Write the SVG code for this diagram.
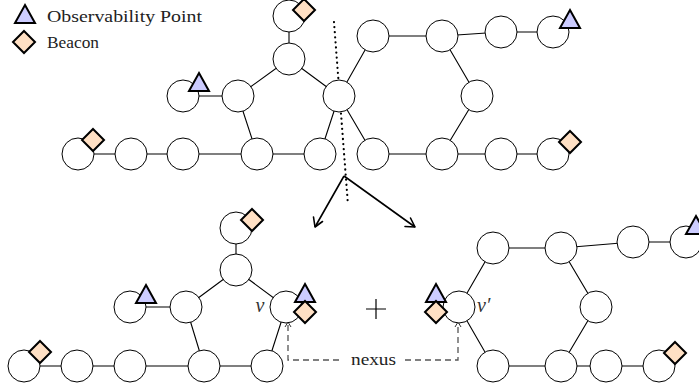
<svg xmlns="http://www.w3.org/2000/svg" width="699" height="390" viewBox="0 0 699 390">
<defs>
<style>
.n{fill:#fff;stroke:#000;stroke-width:1}
.e{stroke:#000;stroke-width:1.1;fill:none}
.tri{fill:#ccccff;stroke:#000;stroke-width:2;stroke-linejoin:miter}
.dia{fill:#ffe0c4;stroke:#000;stroke-width:2;stroke-linejoin:miter}
.t{font-family:"Liberation Serif","DejaVu Serif",serif;font-size:17px;fill:#222}
.it{font-family:"Liberation Serif","DejaVu Serif",serif;font-size:20px;font-style:italic;fill:#333}
</style>
<polygon id="T" points="0,-12 10,6 -10,6"/>
<polygon id="D" points="0,-11 11,0 0,11 -11,0"/>
</defs>
<rect width="699" height="390" fill="#fff"/>

<g id="legend">
<use href="#T" x="25" y="17" class="tri"/>
<text class="t" x="47" y="22" textLength="155" lengthAdjust="spacingAndGlyphs">Observability Point</text>
<use href="#D" x="24" y="42" class="dia"/>
<text class="t" x="47" y="48" textLength="52" lengthAdjust="spacingAndGlyphs">Beacon</text>
</g>

<g id="connectors">
<!-- top graph -->
<path class="e" d="M289,16V59 M289,59L238,96 M289,59L339,96 M183,96H238 M238,96L257,154 M339,96L320,154 M339,96L373,154 M339,96L373,36 M78,154H320 M373,154H553 M373,36H442 M442,36L501,32H553 M442,36L477,96L442,154"/>
<!-- bottom left graph -->
<path class="e" d="M236,228V270 M236,270L186,307 M236,270L286,307 M130,307H186 M186,307L204,366 M286,307L267,366 M24,366H267"/>
<!-- bottom right graph -->
<path class="e" d="M459,307L493,248H561L596,307L561,366H493L459,307 M561,248L633,242H686 M561,366H659"/>
<!-- dotted cut -->
<path d="M334,22L348,205" stroke="#000" stroke-width="2.2" stroke-dasharray="0.1 5" stroke-linecap="round" fill="none"/>
<!-- split arrows -->
<path d="M344,176L315,227 M344,176L415,227" stroke="#000" stroke-width="1.6" fill="none"/>
<path d="M313.5,217L315,227L322.5,221.5 M405,226.5L415,227L410.5,218" stroke="#000" stroke-width="1.6" fill="none" stroke-linecap="round" stroke-linejoin="round"/>
<!-- nexus -->
<path d="M288,325V360H343 M405,360H458V325" stroke="#555" stroke-width="1.3" stroke-dasharray="6 4" fill="none"/>
<path d="M285,327L288,322L291,327 M455,327L458,322L461,327" stroke="#333" stroke-width="1" fill="none"/>
<text class="t" x="373.5" y="365" text-anchor="middle" textLength="45" lengthAdjust="spacingAndGlyphs">nexus</text>
<!-- plus -->
<path d="M366,309H386 M376,299V319" stroke="#000" stroke-width="1.2"/>
</g>

<g id="top-graph">
<circle class="n" cx="289" cy="16" r="16"/>
<circle class="n" cx="289" cy="59" r="16"/>
<circle class="n" cx="238" cy="96" r="16"/>
<circle class="n" cx="183" cy="96" r="16"/>
<circle class="n" cx="339" cy="96" r="16"/>
<circle class="n" cx="78" cy="154" r="16"/>
<circle class="n" cx="131" cy="154" r="16"/>
<circle class="n" cx="183" cy="154" r="16"/>
<circle class="n" cx="257" cy="154" r="16"/>
<circle class="n" cx="320" cy="154" r="16"/>
<circle class="n" cx="373" cy="154" r="16"/>
<circle class="n" cx="442" cy="154" r="16"/>
<circle class="n" cx="501" cy="154" r="16"/>
<circle class="n" cx="553" cy="154" r="16"/>
<circle class="n" cx="373" cy="36" r="16"/>
<circle class="n" cx="442" cy="36" r="16"/>
<circle class="n" cx="501" cy="32" r="16"/>
<circle class="n" cx="553" cy="32" r="16"/>
<circle class="n" cx="477" cy="96" r="16"/>
<use href="#D" x="304" y="10" class="dia"/>
<use href="#T" x="199" y="85" class="tri"/>
<use href="#D" x="93" y="140" class="dia"/>
<use href="#T" x="570" y="22" class="tri"/>
<use href="#D" x="570" y="142" class="dia"/>
</g>

<g id="bottom-left-graph">
<circle class="n" cx="236" cy="228" r="16"/>
<circle class="n" cx="236" cy="270" r="16"/>
<circle class="n" cx="186" cy="307" r="16"/>
<circle class="n" cx="130" cy="307" r="16"/>
<circle class="n" cx="286" cy="307" r="16"/>
<circle class="n" cx="24" cy="366" r="16"/>
<circle class="n" cx="77" cy="366" r="16"/>
<circle class="n" cx="130" cy="366" r="16"/>
<circle class="n" cx="204" cy="366" r="16"/>
<circle class="n" cx="267" cy="366" r="16"/>
<use href="#D" x="252" y="220" class="dia"/>
<use href="#T" x="146" y="297" class="tri"/>
<use href="#D" x="40" y="352" class="dia"/>
<use href="#T" x="305" y="296" class="tri"/>
<use href="#D" x="305" y="312" class="dia"/>
<text class="it" x="260" y="312" text-anchor="middle">v</text>
</g>

<g id="bottom-right-graph">
<circle class="n" cx="459" cy="307" r="16"/>
<circle class="n" cx="493" cy="248" r="16"/>
<circle class="n" cx="561" cy="248" r="16"/>
<circle class="n" cx="596" cy="307" r="16"/>
<circle class="n" cx="561" cy="366" r="16"/>
<circle class="n" cx="493" cy="366" r="16"/>
<circle class="n" cx="633" cy="242" r="16"/>
<circle class="n" cx="686" cy="242" r="16"/>
<circle class="n" cx="606" cy="366" r="16"/>
<circle class="n" cx="659" cy="366" r="16"/>
<use href="#T" x="696" y="228" class="tri"/>
<use href="#D" x="675" y="353" class="dia"/>
<use href="#T" x="436" y="296" class="tri"/>
<use href="#D" x="436" y="312" class="dia"/>
<text class="it" x="477" y="312">v′</text>
</g>
</svg>
